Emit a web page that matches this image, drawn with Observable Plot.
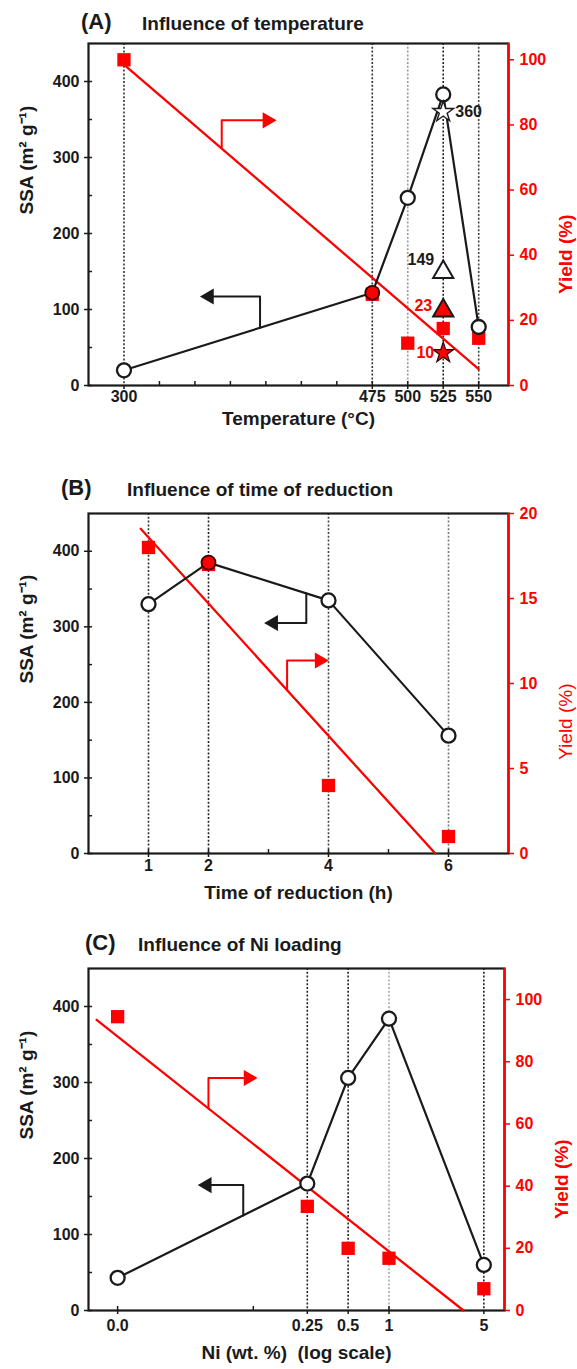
<!DOCTYPE html>
<html><head><meta charset="utf-8">
<script src="https://cdn.jsdelivr.net/npm/d3@7"></script>
<script src="https://cdn.jsdelivr.net/npm/@observablehq/plot@0.6"></script>
<style>
body{margin:0;background:#fff;}
#root{position:relative;width:577px;height:1369px;overflow:hidden;font-family:'Liberation Sans',Arial,Helvetica,sans-serif;color:#1a1a1a;background:#fff;}
.t{position:absolute;font-weight:bold;line-height:1;white-space:nowrap;}
.pw{position:absolute;left:0;}
</style></head><body><div id="root"></div>
<script>
// ---------- Panel A: temperature ----------
const tempX = [300, 475, 500, 525, 550];
const tempSSA = [20, 122, 247, 383, 77];
const tempYield = [100, 28, 13, 17.5, 14.5];
const tempFitX = [300, 550];
const tempFitYield = [98.5, 5];
const tempTicks = [300, 475, 500, 525, 550];
const tempTickLabels = ["300", "475", "500", "525", "550"];
const tempExtraX = 525;
const tempExtraSSA = [360, 149];        // open star, open triangle
const tempExtraSSALabels = ["360", "149"];
const tempExtraYield = [23, 10];        // red triangle, red star
const tempExtraYieldLabels = ["23", "10"];

// ---------- Panel B: time of reduction ----------
const timeX = [1, 2, 4, 6];
const timeSSA = [330, 385, 335, 156];
const timeYield = [18, 17, 4, 1];
const timeFitX = [0.87, 5.78];
const timeFitYield = [19.1, 0];
const timeTicks = [1, 2, 4, 6];
const timeTickLabels = ["1", "2", "4", "6"];

// ---------- Panel C: Ni loading (log scale; 0.0 drawn at 0.01) ----------
const niX = [0.01, 0.25, 0.5, 1, 5];
const niTickLabels = ["0.0", "0.25", "0.5", "1", "5"];
const niSSA = [43, 167, 306, 384, 60];
const niYield = [94.5, 33.5, 20, 16.8, 7];
const niFitX = [0.007, 3.54];
const niFitYield = [93.5, 0];

const RED = "#ff0000", INK = "#1a1a1a";
const FONT = "'Liberation Sans', Arial, Helvetica, sans-serif";
const root = document.getElementById("root");

function title(letter, text, baseline, xL, xT) {
  const a = document.createElement("div");
  a.className = "t"; a.textContent = letter;
  a.style.fontSize = "22px"; a.style.left = xL + "px"; a.style.top = (baseline - 0.8465 * 22) + "px";
  const b = document.createElement("div");
  b.className = "t"; b.textContent = text;
  b.style.fontSize = "19px"; b.style.left = xT + "px"; b.style.top = (baseline - 0.8465 * 19) + "px";
  root.append(a, b);
}

function panel(o) {
  const k = 450 / o.yieldMax;
  const pts = o.x.map((x, i) => ({x, ssa: o.ssa[i], y2: o.yld[i] * k, hl: o.highlight.includes(x)}));
  const fit = o.fitX.map((x, i) => ({x, y: o.fitY[i] * k}));
  const marks = [];
  o.guides.forEach((g, i) => marks.push(Plot.ruleX([g], {stroke: o.guideColors[i], strokeWidth: 1.6, strokeDasharray: "2,1.8"})));
  marks.push(Plot.frame({stroke: INK, strokeWidth: 2.2}));
  marks.push(Plot.ruleX([o.xDomain[1]], {stroke: RED, strokeWidth: 2.2}));
  // axes
  marks.push(Plot.axisY({anchor: "left", ticks: [0, 100, 200, 300, 400], tickSize: 4, tickPadding: 5, fontSize: 16, fontWeight: "bold", label: null, strokeWidth: 1.5, color: INK}));
  marks.push(Plot.axisY({anchor: "left", ticks: [0, 50, 100, 150, 200, 250, 300, 350, 400], tickSize: -4, tickFormat: () => "", label: null, strokeWidth: 1.5, color: INK}));
  marks.push(Plot.axisY({anchor: "right", ticks: o.yieldTicks.map(v => v * k), tickFormat: d => String(Math.round(d / k)), tickSize: 5, tickPadding: 6, fontSize: 16, fontWeight: "bold", label: null, strokeWidth: 1.5, color: RED}));
  marks.push(Plot.axisX({anchor: "bottom", ticks: o.xTicks, tickFormat: () => "", tickSize: 4, label: null, strokeWidth: 1.5, color: INK}));
  marks.push(Plot.axisX({anchor: "bottom", ticks: o.minorX, tickFormat: () => "", tickSize: -4, label: null, strokeWidth: 1.5, color: INK}));
  marks.push(Plot.text(o.xTicks, {x: d => d, text: (d, i) => o.xTickLabels[i], frameAnchor: "bottom", dy: o.tickDy, fontSize: 16, fontWeight: "bold", fill: INK}));
  // fit line and SSA line
  marks.push(Plot.line(fit, {x: "x", y: "y", stroke: RED, strokeWidth: 2.3}));
  marks.push(Plot.line(pts, {x: "x", y: "ssa", stroke: INK, strokeWidth: 2.2}));
  // annotation arrows
  o.arrows.forEach(a => {
    const s = a.yieldAxis ? k : 1;
    const p = a.px.map((x, i) => ({x, y: a.py[i] * s}));
    marks.push(Plot.line(p, {x: "x", y: "y", stroke: a.color, strokeWidth: 2}));
    marks.push(Plot.dot([p[p.length - 1]], {x: "x", y: "y", symbol: "triangle", r: 5, rotate: a.dir === "right" ? 90 : -90, fill: a.color, stroke: a.color}));
  });
  // yield squares
  marks.push(Plot.dot(pts, {x: "x", y: "y2", symbol: "square", r: 7.5, fill: RED}));
  // SSA circles
  marks.push(Plot.dot(pts.filter(d => !d.hl), {x: "x", y: "ssa", r: 7, fill: "white", stroke: INK, strokeWidth: 2.3}));
  marks.push(Plot.dot(pts.filter(d => d.hl), {x: "x", y: "ssa", r: 7, fill: RED, stroke: "#3a0000", strokeWidth: 1.8}));
  if (o.extra) marks.push(...o.extra(k));
  // axis titles
  marks.push(Plot.text([o.xLabel], {text: d => d, frameAnchor: "bottom", dy: o.xLabelDy, fontSize: 19, fontWeight: "bold", fill: INK}));
  marks.push(Plot.text(["SSA (m\u00B2 g\u207B\u00B9)"], {text: d => d, frameAnchor: "left", rotate: -90, dx: -62, fontSize: 19, fontWeight: "bold", fill: INK}));
  marks.push(Plot.text(["Yield (%)"], {text: d => d, frameAnchor: "right", rotate: -90, dx: 57, fontSize: 19, fontWeight: o.yieldBold ? "bold" : "normal", fill: RED}));

  const svg = Plot.plot({
    width: 577, height: o.height,
    marginLeft: 88, marginRight: 577 - o.right, marginTop: 6, marginBottom: o.marginBottom,
    x: {type: o.xType || "linear", domain: o.xDomain, axis: null},
    y: {domain: [0, 450], axis: null},
    style: {fontFamily: FONT, fontSize: "16px", background: "transparent", overflow: "visible"},
    marks
  });
  const w = document.createElement("div");
  w.className = "pw"; w.style.top = o.top + "px";
  w.append(svg);
  root.append(w);
}

// Panel A
title("(A)", "Influence of temperature", 30, 81, 142);
panel({
  top: 37, height: 408, marginBottom: 60, right: 508,
  xDomain: [275, 571], x: tempX, ssa: tempSSA, yld: tempYield, yieldMax: 105,
  yieldTicks: [0, 20, 40, 60, 80, 100], fitX: tempFitX, fitY: tempFitYield,
  guides: [300, 475, 500, 525, 550], guideColors: ["#333", "#333", "#999", "#222", "#444"],
  xTicks: tempTicks, xTickLabels: tempTickLabels, minorX: [325, 350, 375, 400, 425, 450, 475, 500, 525, 550],
  tickDy: 16, highlight: [475], xLabel: "Temperature (\u00B0C)", xLabelDy: 39, yieldBold: true,
  arrows: [
    {px: [368.9, 368.9, 401], py: [73.1, 81.4, 81.4], yieldAxis: true, color: RED, dir: "right"},
    {px: [395.9, 395.9, 360], py: [75.9, 117, 117], yieldAxis: false, color: INK, dir: "left"}
  ],
  extra: k => [
    Plot.dot([tempExtraSSA[1]], {x: () => tempExtraX, y: d => d, symbol: "triangle", r: 7.5, fill: "white", stroke: INK, strokeWidth: 2}),
    Plot.dot([tempExtraSSA[0]], {x: () => tempExtraX, y: d => d, symbol: "star", r: 6.5, fill: "white", stroke: INK, strokeWidth: 1.4}),
    Plot.dot([tempExtraYield[0]], {x: () => tempExtraX, y: d => d * k, symbol: "triangle", r: 7.5, fill: RED, stroke: INK, strokeWidth: 2}),
    Plot.dot([tempExtraYield[1]], {x: () => tempExtraX, y: d => d * k, symbol: "star", r: 6.5, fill: RED, stroke: "#3a0000", strokeWidth: 1.2}),
    Plot.text([0], {x: () => tempExtraX, y: () => tempExtraSSA[0], text: () => tempExtraSSALabels[0], dx: 12, textAnchor: "start", fontSize: 16, fontWeight: "bold", fill: INK}),
    Plot.text([0], {x: () => tempExtraX, y: () => tempExtraSSA[1], text: () => tempExtraSSALabels[1], dx: -9, dy: -12, textAnchor: "end", fontSize: 16, fontWeight: "bold", fill: INK}),
    Plot.text([0], {x: () => tempExtraX, y: () => tempExtraYield[0] * k, text: () => tempExtraYieldLabels[0], dx: -11, dy: -5, textAnchor: "end", fontSize: 16, fontWeight: "bold", fill: RED}),
    Plot.text([0], {x: () => tempExtraX, y: () => tempExtraYield[1] * k, text: () => tempExtraYieldLabels[1], dx: -9, dy: 0, textAnchor: "end", fontSize: 16, fontWeight: "bold", fill: RED})
  ]
});

// Panel B
title("(B)", "Influence of time of reduction", 496, 61, 127);
panel({
  top: 507, height: 402, marginBottom: 56, right: 508,
  xDomain: [0, 7], x: timeX, ssa: timeSSA, yld: timeYield, yieldMax: 20,
  yieldTicks: [0, 5, 10, 15, 20], fitX: timeFitX, fitY: timeFitYield,
  guides: [1, 2, 4, 6], guideColors: ["#333", "#222", "#444", "#777"],
  xTicks: timeTicks, xTickLabels: timeTickLabels, minorX: [1, 2, 3, 4, 5, 6],
  tickDy: 17, highlight: [2], xLabel: "Time of reduction (h)", xLabelDy: 45, yieldBold: false,
  arrows: [
    {px: [3.63, 3.63, 3.08], py: [344, 305, 305], yieldAxis: false, color: INK, dir: "left"},
    {px: [3.31, 3.31, 3.85], py: [9.6, 11.35, 11.35], yieldAxis: true, color: RED, dir: "right"}
  ]
});

// Panel C
title("(C)", "Influence of Ni loading", 951, 85, 138);
panel({
  top: 962, height: 407, marginBottom: 59, right: 504,
  xType: "log", xDomain: [0.0061, 7.1], x: niX, ssa: niSSA, yld: niYield, yieldMax: 110,
  yieldTicks: [0, 20, 40, 60, 80, 100], fitX: niFitX, fitY: niFitYield,
  guides: [0.25, 0.5, 1, 5], guideColors: ["#222", "#222", "#aaa", "#222"],
  xTicks: niX, xTickLabels: niTickLabels, minorX: [0.01, 0.1, 1],
  tickDy: 20, highlight: [], xLabel: "Ni (wt. %)  (log scale)", xLabelDy: 48, yieldBold: true,
  arrows: [
    {px: [0.0467, 0.0467, 0.092], py: [65, 74.8, 74.8], yieldAxis: true, color: RED, dir: "right"},
    {px: [0.0843, 0.0843, 0.0455], py: [125, 165, 165], yieldAxis: false, color: INK, dir: "left"}
  ]
});
</script></body></html>
